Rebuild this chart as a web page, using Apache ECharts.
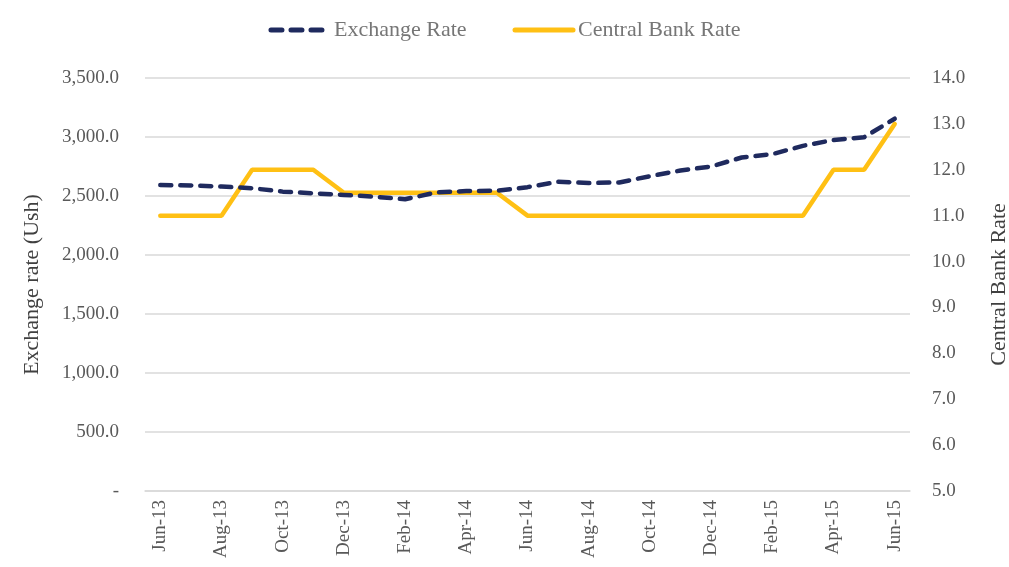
<!DOCTYPE html>
<html>
<head>
<meta charset="utf-8">
<script src="https://cdn.jsdelivr.net/npm/echarts@6/dist/echarts.min.js"></script>
<style>
  html, body { margin: 0; padding: 0; background: #fff; }
  #chart { width: 1009px; height: 567px; }
</style>
</head>
<body>
<div id="chart"></div>
<script>
const months = [
  "Jun-13", "Jul-13", "Aug-13", "Sep-13", "Oct-13", "Nov-13", "Dec-13",
  "Jan-14", "Feb-14", "Mar-14", "Apr-14", "May-14", "Jun-14", "Jul-14",
  "Aug-14", "Sep-14", "Oct-14", "Nov-14", "Dec-14", "Jan-15", "Feb-15",
  "Mar-15", "Apr-15", "May-15", "Jun-15"
];

// Ush per USD
const exchangeRate = [
  2593, 2590, 2580, 2566, 2537, 2523, 2509, 2494, 2472, 2530, 2542, 2545,
  2575, 2620, 2610, 2615, 2668, 2716, 2750, 2826, 2855, 2925, 2975, 2998, 3155
];

// percent
const centralBankRate = [
  11, 11, 11, 12, 12, 12, 11.5, 11.5, 11.5, 11.5, 11.5, 11.5,
  11, 11, 11, 11, 11, 11, 11, 11, 11, 11, 12, 12, 13
];

const font = "'Liberation Serif', 'DejaVu Serif', serif";

const chart = echarts.init(document.getElementById("chart"));

chart.setOption({
  animation: false,
  textStyle: { fontFamily: font },
  legend: {
    top: 14,
    left: "center",
    itemWidth: 58,
    itemHeight: 14,
    itemGap: 46,
    itemStyle: { opacity: 0, borderWidth: 0 },
    lineStyle: { width: 5 },
    textStyle: { fontFamily: font, fontSize: 22, color: "#767676" },
    data: ["Exchange Rate", "Central Bank Rate"]
  },
  grid: { left: 145, right: 99, top: 78, bottom: 76, outerBoundsMode: "none" },
  xAxis: {
    type: "category",
    data: months,
    boundaryGap: true,
    axisLine: { lineStyle: { color: "#d9d9d9", width: 1.5 } },
    axisTick: { interval: 1, length: 6, lineStyle: { color: "#d9d9d9", width: 1.5 } },
    axisLabel: {
      interval: 1,
      rotate: 90,
      margin: 9,
      fontFamily: font,
      fontSize: 19,
      color: "#595959"
    }
  },
  yAxis: [
    {
      type: "value",
      min: 0,
      max: 3500,
      interval: 500,
      name: "Exchange rate (Ush)",
      nameLocation: "middle",
      nameGap: 102,
      nameTextStyle: { fontFamily: font, fontSize: 22, color: "#404040" },
      axisLine: { show: false },
      axisTick: { show: false },
      splitLine: { lineStyle: { color: "#d9d9d9", width: 1.5 } },
      axisLabel: {
        margin: 26,
        fontFamily: font,
        fontSize: 19,
        color: "#595959",
        formatter: (v) => v === 0 ? "-" :
          v.toLocaleString("en-US", { minimumFractionDigits: 1, maximumFractionDigits: 1 })
      }
    },
    {
      type: "value",
      min: 5,
      max: 14,
      interval: 1,
      name: "Central Bank Rate",
      nameLocation: "middle",
      nameGap: 78,
      nameTextStyle: { fontFamily: font, fontSize: 22, color: "#404040" },
      axisLine: { show: false },
      axisTick: { show: false },
      splitLine: { show: false },
      axisLabel: {
        margin: 22,
        fontFamily: font,
        fontSize: 19,
        color: "#595959",
        formatter: (v) => v.toFixed(1)
      }
    }
  ],
  series: [
    {
      name: "Exchange Rate",
      type: "line",
      yAxisIndex: 0,
      data: exchangeRate,
      symbol: "none",
      itemStyle: { color: "#1f2a5e" },
      lineStyle: { color: "#1f2a5e", width: 4.5, type: [11, 9], cap: "round" },
      z: 3
    },
    {
      name: "Central Bank Rate",
      type: "line",
      yAxisIndex: 1,
      data: centralBankRate,
      symbol: "none",
      itemStyle: { color: "#ffc014" },
      lineStyle: { color: "#ffc014", width: 4.5, cap: "round" },
      z: 2
    }
  ]
});
</script>
</body>
</html>
